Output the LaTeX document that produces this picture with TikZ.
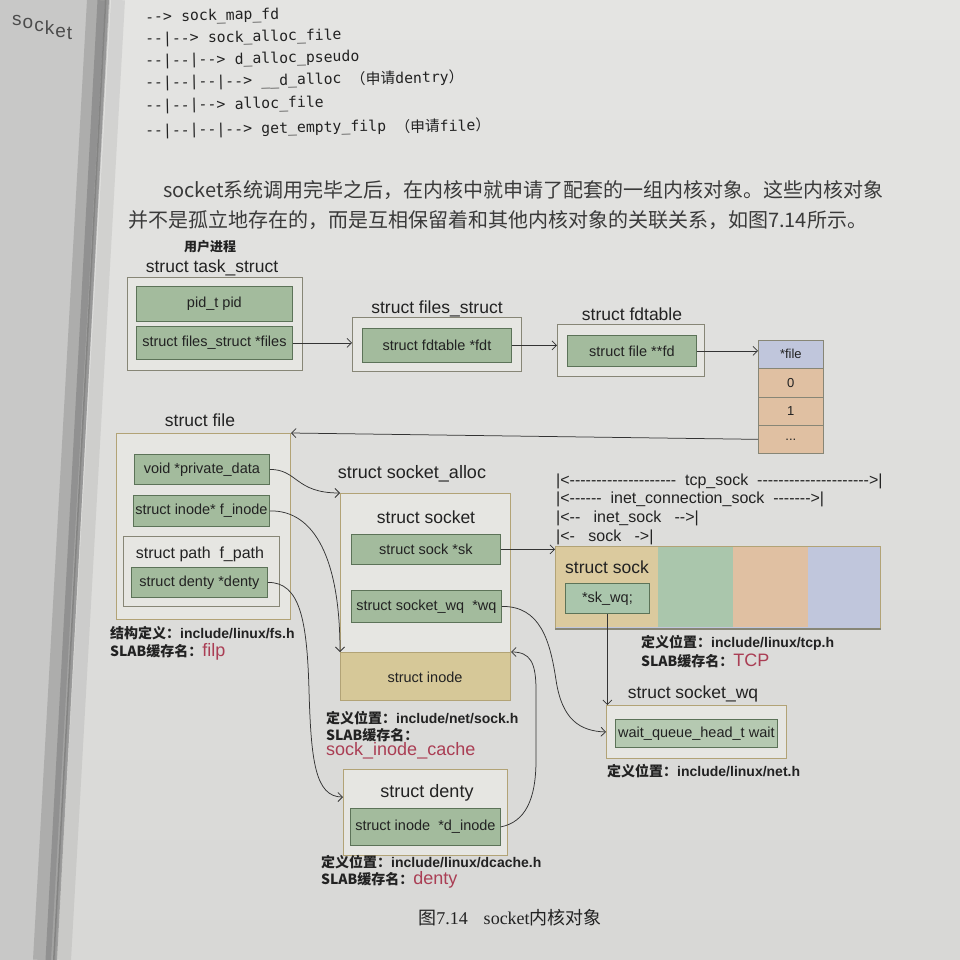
\documentclass[tikz,border=0pt]{standalone}
\usepackage{fontspec}
\setmainfont{Liberation Sans}
\newfontfamily\cjk{Noto Sans CJK SC}
\newfontfamily\codefont{DejaVu Sans Mono}[Ligatures=TeXOff]
\newfontfamily\dashfont{Liberation Sans}[Ligatures=TeXOff]
\newfontfamily\capserif{Liberation Serif}
\usetikzlibrary{arrows.meta,calc}

\newcommand{\setfs}[1]{\fontsize{#1}{#1}\selectfont}
% style, name, x1, y1, x2, y2, text  (top-left corner and bottom-right corner)
\newcommand{\boxnode}[7]{%
  \node[#1, anchor=north west, minimum width={(#5)-(#3)}, minimum height={(#6)-(#4)}] (#2) at (#3,#4) {#7};}
\newcommand{\defloc}{{\cjk\bfseries 定义位置：}}
\newcommand{\slabnm}{{\cjk\bfseries SLAB缓存名：}}
\newcommand{\slabred}[1]{{\mdseries\setfs{18}\color{slabred}#1}}

\definecolor{pagetop}{RGB}{228,228,226}
\definecolor{pagebot}{RGB}{216,216,214}
\definecolor{leftpage}{RGB}{200,200,199}
\definecolor{gutter}{RGB}{95,95,95}
\definecolor{ink}{RGB}{34,34,34}
\definecolor{paraink}{RGB}{58,58,58}
\definecolor{boxfill}{RGB}{230,230,226}
\definecolor{boxline}{RGB}{135,134,118}
\definecolor{tanline}{RGB}{178,163,118}
\definecolor{fieldfill}{RGB}{163,187,157}
\definecolor{fieldline}{RGB}{92,115,88}
\definecolor{tanfill}{RGB}{214,200,152}
\definecolor{socktan}{RGB}{219,202,158}
\definecolor{mint}{RGB}{170,198,172}
\definecolor{peach}{RGB}{224,192,162}
\definecolor{lav}{RGB}{192,198,220}
\definecolor{slabred}{RGB}{170,62,84}
\definecolor{wire}{RGB}{52,52,52}

\begin{document}
\begin{tikzpicture}[x=1pt,y=-1pt,
  box/.style={draw=boxline, fill=boxfill, line width=1pt, inner sep=0pt},
  tanbox/.style={box, draw=tanline},
  field/.style={draw=fieldline, fill=fieldfill, line width=0.8pt, inner sep=0pt, text=ink, font=\setfs{14.5}},
  title/.style={inner sep=0pt, text=ink, font=\setfs{17.5}},
  note/.style={anchor=west, inner sep=0pt, text=ink, font=\setfs{14}\bfseries},
  wire/.style={draw=wire, line width=0.75pt, -{Straight Barb[length=4.5pt,width=9pt]}},
  cell/.style={draw=boxline, line width=0.7pt, inner sep=0pt, text=ink, font=\setfs{13}},
  codeline/.style={anchor=west, inner sep=0pt, text=ink, font=\codefont\setfs{14.8}, rotate=1.2},
  para/.style={anchor=west, inner sep=0pt, text=paraink, font=\cjk\setfs{20}},
  seg/.style={anchor=west, inner sep=0pt, text=ink, font=\dashfont\setfs{16}},
  facing/.style={anchor=base west, inner sep=0pt, text=gray!60!black, font=\setfs{19}}]

\useasboundingbox (0,0) rectangle (960,960);
\clip (0,0) rectangle (960,960);

% ---------- page, facing page and gutter ----------
\shade[top color=pagetop, bottom color=pagebot] (0,0) rectangle (960,960);
\fill[leftpage] (0,0) -- (110,0) -- (56,960) -- (0,960) -- cycle;
\draw[gutter, line width=18pt, opacity=0.25] (96,0) -- (42,960);
\draw[gutter, line width=9pt, opacity=0.35] (102,0) -- (50,960);
\draw[gutter, line width=4pt, opacity=0.45] (107,0) -- (55,960);
\draw[gutter, line width=14pt, opacity=0.12] (118,0) -- (64,960);
% word on the facing page, running downhill letter by letter
\node[facing] (fs1) at (12,26) {s};
\node[facing] (fs2) at ($(fs1.base east)+(0.6,2.8)$) {o};
\node[facing] (fs3) at ($(fs2.base east)+(0.6,2.8)$) {c};
\node[facing] (fs4) at ($(fs3.base east)+(0.6,2.8)$) {k};
\node[facing] (fs5) at ($(fs4.base east)+(0.6,2.8)$) {e};
\node[facing] (fs6) at ($(fs5.base east)+(0.6,2.8)$) {t};

% ---------- call chain listing ----------
\node[codeline] (c1a) at (145,18) {-->};
\node[codeline] (c1b) at (c1a.east) {\ sock\_map\_fd};
\node[codeline] (c2a) at (145,40) {--|-->};
\node[codeline] (c2b) at (c2a.east) {\ sock\_alloc\_file};
\node[codeline] (c3a) at (145,62) {--|--|-->};
\node[codeline] (c3b) at (c3a.east) {\ d\_alloc\_pseudo};
\node[codeline] (c4a) at (145,84) {--|--|--|-->};
\node[codeline] (c4b) at (c4a.east) {\ \_\_d\_alloc};
\node[codeline] (c4c) at (c4b.east) {\ {\cjk （申请}dentry{\cjk ）}};
\node[codeline] (c5a) at (145,107) {--|--|-->};
\node[codeline] (c5b) at (c5a.east) {\ alloc\_file};
\node[codeline] (c6a) at (145,132) {--|--|--|-->};
\node[codeline] (c6b) at (c6a.east) {\ get\_empty\_filp};
\node[codeline] (c6c) at (c6b.east) {\ {\cjk （申请}file{\cjk ）}};

% ---------- paragraph ----------
\node[para] (p1) at (163,190) {socket系统调用完毕之后，在内核中就申请了配套的一组内核对象。这些内核对象};
\node[para] (p2) at (128,220) {并不是孤立地存在的，而是互相保留着和其他内核对象的关联关系，如图7.14所示。};

% ---------- task_struct ----------
\node[inner sep=0pt, text=ink, font=\cjk\bfseries\setfs{13}] (proc) at (210,247) {用户进程};
\node[title] (ttask) at (212,268) {struct task\_struct};
\boxnode{box}{task}{127}{277}{302}{370}{}
\boxnode{field}{pid}{136}{286}{292}{321}{pid\_t pid}
\boxnode{field}{files}{136}{326}{292}{359}{struct files\_struct *files}

% ---------- files_struct ----------
\node[title] (tfs) at (437,309) {struct files\_struct};
\boxnode{box}{fs}{352}{317}{521}{371}{}
\boxnode{field}{fdt}{362}{328}{511}{362}{struct fdtable *fdt}

% ---------- fdtable ----------
\node[title] (tfdtab) at (632,314) {struct fdtable};
\boxnode{box}{fdtab}{557}{324}{704}{376}{}
\boxnode{field}{fdfield}{567}{335}{696}{366}{struct file **fd}

% ---------- fd array ----------
\boxnode{cell, fill=lav}{cfile}{758}{340}{823}{368}{*file}
\boxnode{cell, fill=peach}{czero}{758}{368}{823}{397}{0}
\boxnode{cell, fill=peach}{cone}{758}{397}{823}{425}{1}
\boxnode{cell, fill=peach}{cdots}{758}{425}{823}{453}{...}

% ---------- struct file ----------
\node[title] (tfile) at (200,420) {struct file};
\boxnode{tanbox}{sfile}{116}{433}{290}{619}{}
\boxnode{field}{privdata}{134}{454}{269}{484}{void *private\_data}
\boxnode{field}{finode}{133}{495}{269}{526}{struct inode* f\_inode}
\boxnode{box}{fpath}{123}{536}{279}{606}{}
\node[inner sep=0pt, text=ink, font=\setfs{16}] (tpath) at (200,554) {struct path\ \ f\_path};
\boxnode{field}{dentyf}{131}{567}{267}{597}{struct denty *denty}
\node[note] (nfile1) at (110,633) {{\cjk\bfseries 结构定义：}include/linux/fs.h};
\node[note] (nfile2) at (110,652) {\slabnm\slabred{filp}};

% ---------- socket_alloc ----------
\node[title, font=\setfs{18}] (tsalloc) at (412,474) {struct socket\_alloc};
\boxnode{tanbox}{salloc}{340}{493}{510}{700}{}
\node[title] (tsocket) at (426,517) {struct socket};
\boxnode{field}{sk}{351}{534}{500}{564}{struct sock *sk}
\boxnode{field}{wq}{351}{590}{501}{622}{struct socket\_wq\ \ *wq}
\boxnode{tanbox, fill=tanfill}{inodebox}{340}{652}{510}{700}{}
\node[inner sep=0pt, text=ink, font=\setfs{14.5}] (tinode) at (425,677) {struct inode};
\node[note] (nsock1) at (326,718) {\defloc include/net/sock.h};
\node[note] (nsock2) at (326,735) {\slabnm};
\node[note] (nsock3) at (326,751) {\slabred{sock\_inode\_cache}};

% ---------- struct sock and its enclosing types ----------
\node[seg] (ltcp) at (556,481) {|<--------------------\ \ tcp\_sock\ \ --------------------->|};
\node[seg] (licsk) at (556,499) {|<------\ \ inet\_connection\_sock\ \ ------->|};
\node[seg] (linet) at (556,518) {|<--\ \ \ inet\_sock\ \ \ -->|};
\node[seg] (lsock) at (556,537) {|<-\ \ \ sock\ \ \ ->|};
\boxnode{draw=tanline, line width=1pt, fill=lav, inner sep=0pt}{sockbig}{555}{546}{880}{628}{}
\boxnode{fill=peach, inner sep=0pt}{sockpeach}{733}{547}{808}{627}{}
\boxnode{fill=mint, inner sep=0pt}{sockmint}{658}{547}{733}{627}{}
\boxnode{fill=socktan, inner sep=0pt}{sockhead}{556}{547}{658}{627}{}
\draw[boxline, line width=1.6pt] (sockbig.south west) -- (sockbig.south east);
\node[title] (tsock) at (607,567) {struct sock};
\boxnode{field, fill=mint}{skwq}{565}{583}{649}{613}{*sk\_wq;}
\node[note] (ntcp1) at (641,643) {\defloc include/linux/tcp.h};
\node[note] (ntcp2) at (641,661) {\slabnm\slabred{TCP}};

% ---------- socket_wq ----------
\node[title] (tswq) at (693,694) {struct socket\_wq};
\boxnode{tanbox}{swq}{606}{705}{786}{758}{}
\boxnode{field, fill=fieldfill!80!white}{wait}{615}{719}{777}{747}{wait\_queue\_head\_t wait}
\node[note] (nnet) at (607,771) {\defloc include/linux/net.h};

% ---------- dentry ----------
\boxnode{tanbox}{dbox}{343}{769}{507}{855}{}
\node[title, font=\setfs{18}] (tdenty) at (427,793) {struct denty};
\boxnode{field}{dinode}{350}{808}{500}{845}{struct inode\ \ *d\_inode}
\node[note] (nd1) at (321,862) {\defloc include/linux/dcache.h};
\node[note] (nd2) at (321,880) {\slabnm\slabred{denty}};

% ---------- caption ----------
\node[inner sep=0pt, text=ink, font=\setfs{18}] (caption) at (510,918)
  {{\cjk 图}{\capserif 7.14\hspace{16pt}socket}{\cjk 内核对象}};

% ---------- pointers ----------
\draw[wire] (files.east) -- (files.east -| fs.west);
\draw[wire] (fdt.east) -- (fdt.east -| fdtab.west);
\draw[wire] (fdfield.east) -- (fdfield.east -| cfile.west);
\draw[wire] (cdots.west) -- (sfile.north east);
\draw[wire] (privdata.east) .. controls +(28,0) and +(-45,0) .. (salloc.north west);
\draw[wire] (finode.east) .. controls (315,510) and (340,560) .. (inodebox.north west);
\coordinate (dtip) at ($(dbox.north west)+(0,28)$);
\draw[wire] (dentyf.east) .. controls (300,582) and (307,620) .. (309,690)
  .. controls (311,760) and (315,797) .. (dtip);
\draw[wire] (dinode.east) .. controls (525,822) and (536,800) .. (536,760)
  -- (536,690) .. controls (536,662) and (530,652) .. (inodebox.north east);
\draw[wire] (sk.east) -- (sk.east -| sockbig.west);
\draw[wire] (wq.east) .. controls (540,606) and (550,640) .. (556,680)
  .. controls (562,720) and (580,731) .. (swq.west);
\draw[wire] (skwq.south) -- (skwq.south |- swq.north);

\end{tikzpicture}
\end{document}
